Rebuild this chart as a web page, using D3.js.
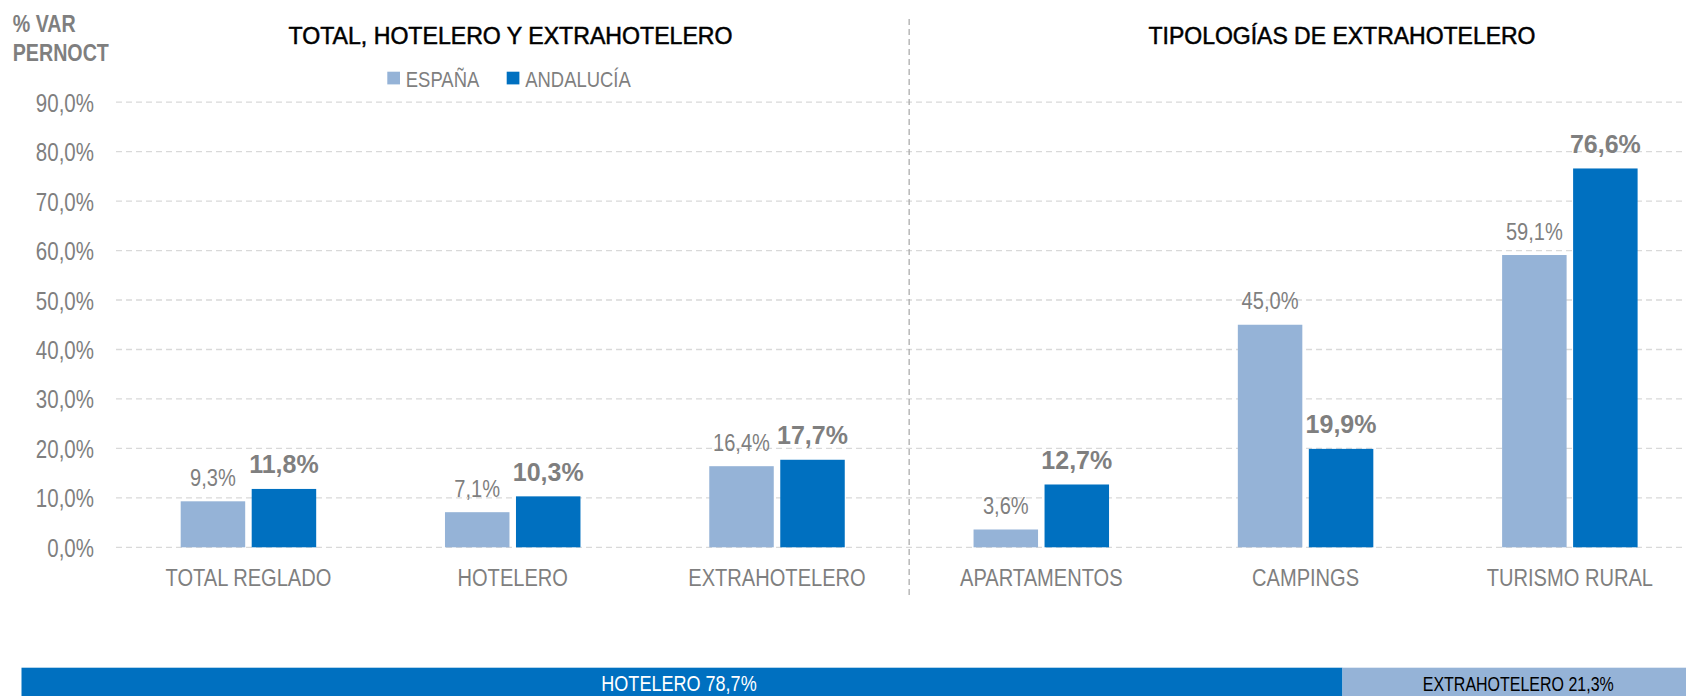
<!DOCTYPE html>
<html>
<head>
<meta charset="utf-8">
<script src="https://cdn.jsdelivr.net/npm/d3@7"></script>
<style>
  html, body { margin: 0; padding: 0; background: #fff; overflow: hidden; }
  svg { display: block; }
  .narrow { font-family: "Liberation Sans", Arial, sans-serif; }
</style>
</head>
<body>
<svg id="chart" width="1686" height="696"></svg>
<script>
// ---- data ----
const categories = ["TOTAL REGLADO", "HOTELERO", "EXTRAHOTELERO", "APARTAMENTOS", "CAMPINGS", "TURISMO RURAL"];
const seriesNames = ["ESPAÑA", "ANDALUCÍA"];
const espana = [9.3, 7.1, 16.4, 3.6, 45.0, 59.1];
const andalucia = [11.8, 10.3, 17.7, 12.7, 19.9, 76.6];
const yTicks = [0, 10, 20, 30, 40, 50, 60, 70, 80, 90];
const panelTitles = ["TOTAL, HOTELERO Y EXTRAHOTELERO", "TIPOLOGÍAS DE EXTRAHOTELERO"];
const yAxisTitle = ["% VAR", "PERNOCT"];
const shareLabels = ["HOTELERO", "EXTRAHOTELERO"];
const shareValues = [78.7, 21.3];

// ---- style ----
const cLight = "#95B3D7", cDark = "#0070C0", cGray = "#7F7F7F", cGrid = "#D9D9D9";
const fmt = v => d3.format(".1f")(v).replace(".", ",") + "%";
const NARROW = 0.82;

// condense text horizontally (Arial Narrow look) while keeping it real text
function narrow(sel) {
  sel.each(function () {
    const t = d3.select(this);
    const x = +t.attr("x") || 0, y = +t.attr("y") || 0;
    t.attr("x", 0).attr("y", 0)
      .attr("transform", `translate(${x},${y}) scale(${NARROW},1)`);
  });
}

const svg = d3.select("#chart");
const W = 1686, H = 696;

// scales
const x = d3.scaleBand().domain(categories).range([116.3, 1702]).paddingInner(0).paddingOuter(0);
const xs = d3.scaleBand().domain(seriesNames).range([0, x.bandwidth()]).paddingInner(0.0915).paddingOuter(0.907);
const y = d3.scaleLinear().domain([0, 90]).range([547.3, 102.2]);

// gridlines
svg.append("g").selectAll("line").data(yTicks).join("line")
  .attr("x1", 116).attr("x2", W)
  .attr("y1", d => y(d)).attr("y2", d => y(d))
  .attr("stroke", cGrid).attr("stroke-width", 1.3).attr("stroke-dasharray", "6,4");

// y axis labels
const yAxis = d3.axisLeft(y).tickValues(yTicks).tickSize(0).tickPadding(0).tickFormat(fmt);
const gy = svg.append("g").attr("transform", "translate(94,0)").call(yAxis);
gy.select(".domain").remove();
gy.selectAll("text").attr("class", "narrow").attr("font-size", 25).attr("fill", cGray).attr("dy", "0.36em").call(narrow);

// x axis labels
const xAxis = d3.axisBottom(x).tickSize(0).tickPadding(0);
const gx = svg.append("g").attr("transform", "translate(0,586)").call(xAxis);
gx.select(".domain").remove();
gx.selectAll("text").attr("class", "narrow").attr("font-size", 24.5).attr("fill", cGray).attr("dy", 0).call(narrow);

// vertical divider
svg.append("line")
  .attr("x1", x(categories[3])).attr("x2", x(categories[3]))
  .attr("y1", 19).attr("y2", 599)
  .attr("stroke", "#A6A6A6").attr("stroke-width", 1.2).attr("stroke-dasharray", "6,4");

// bars
const rows = categories.map((c, i) => ({ cat: c, vals: [{ s: seriesNames[0], v: espana[i] }, { s: seriesNames[1], v: andalucia[i] }] }));
const groups = svg.append("g").selectAll("g").data(rows).join("g")
  .attr("transform", d => `translate(${x(d.cat)},0)`);
groups.selectAll("rect").data(d => d.vals).join("rect")
  .attr("x", d => xs(d.s)).attr("width", xs.bandwidth())
  .attr("y", d => y(d.v)).attr("height", d => y(0) - y(d.v))
  .attr("fill", d => d.s === seriesNames[0] ? cLight : cDark);
const lbl = groups.selectAll("text").data(d => d.vals).join("text")
  .attr("x", d => xs(d.s) + xs.bandwidth() / 2)
  .attr("y", d => y(d.v) - 15.5)
  .attr("text-anchor", "middle")
  .attr("fill", cGray)
  .text(d => fmt(d.v));
lbl.filter(d => d.s === seriesNames[0]).attr("class", "narrow").attr("font-size", 24.5).call(narrow);
lbl.filter(d => d.s === seriesNames[1])
  .attr("font-family", "'Liberation Sans', Arial, sans-serif").attr("font-weight", "bold").attr("font-size", 25);

// panel titles
const titleSpecs = [{ t: panelTitles[0], cx: 510.5, len: 444 }, { t: panelTitles[1], cx: 1342, len: 387 }];
svg.append("g").selectAll("text").data(titleSpecs).join("text")
  .attr("x", d => d.cx).attr("y", 44)
  .attr("text-anchor", "middle")
  .attr("font-family", "'Liberation Sans', Arial, sans-serif")
  .attr("font-size", 23.5).attr("fill", "#000")
  .attr("stroke", "#000").attr("stroke-width", 0.5)
  .attr("textLength", d => d.len).attr("lengthAdjust", "spacingAndGlyphs")
  .text(d => d.t);

// y axis title
svg.append("g").selectAll("text").data(yAxisTitle).join("text")
  .attr("class", "narrow")
  .attr("x", 12.7).attr("y", (d, i) => 32 + i * 29)
  .attr("font-size", 24).attr("font-weight", "bold").attr("fill", cGray)
  .text(d => d)
  .call(narrow);

// legend
const legendSpecs = [{ s: seriesNames[0], c: cLight, x: 387.3 }, { s: seriesNames[1], c: cDark, x: 506.7 }];
const lg = svg.append("g").selectAll("g").data(legendSpecs).join("g")
  .attr("transform", d => `translate(${d.x},0)`);
lg.append("rect").attr("x", 0).attr("y", 71.7).attr("width", 12.7).attr("height", 12.7).attr("fill", d => d.c);
lg.append("text").attr("class", "narrow").attr("x", 18.5).attr("y", 86.7)
  .attr("font-size", 22.5).attr("fill", cGray).text(d => d.s).call(narrow);

// bottom share bar
const sx = d3.scaleLinear().domain([0, d3.sum(shareValues)]).range([21.5, 1700]);
let acc = 0;
const shares = shareValues.map((v, i) => { const o = { label: shareLabels[i], v, x0: acc }; acc += v; return o; });
const sb = svg.append("g").selectAll("g").data(shares).join("g");
sb.append("rect")
  .attr("x", d => sx(d.x0)).attr("width", d => sx(d.x0 + d.v) - sx(d.x0))
  .attr("y", 667.7).attr("height", 40)
  .attr("fill", (d, i) => i === 0 ? cDark : cLight);
sb.append("text").attr("class", "narrow")
  .attr("x", d => (sx(d.x0) + sx(d.x0 + d.v)) / 2 - 3)
  .attr("y", 691)
  .attr("text-anchor", "middle").attr("font-size", (d, i) => i === 0 ? 22 : 19.5)
  .attr("fill", (d, i) => i === 0 ? "#fff" : "#000")
  .text(d => d.label + " " + fmt(d.v))
  .call(narrow);
</script>
</body>
</html>
